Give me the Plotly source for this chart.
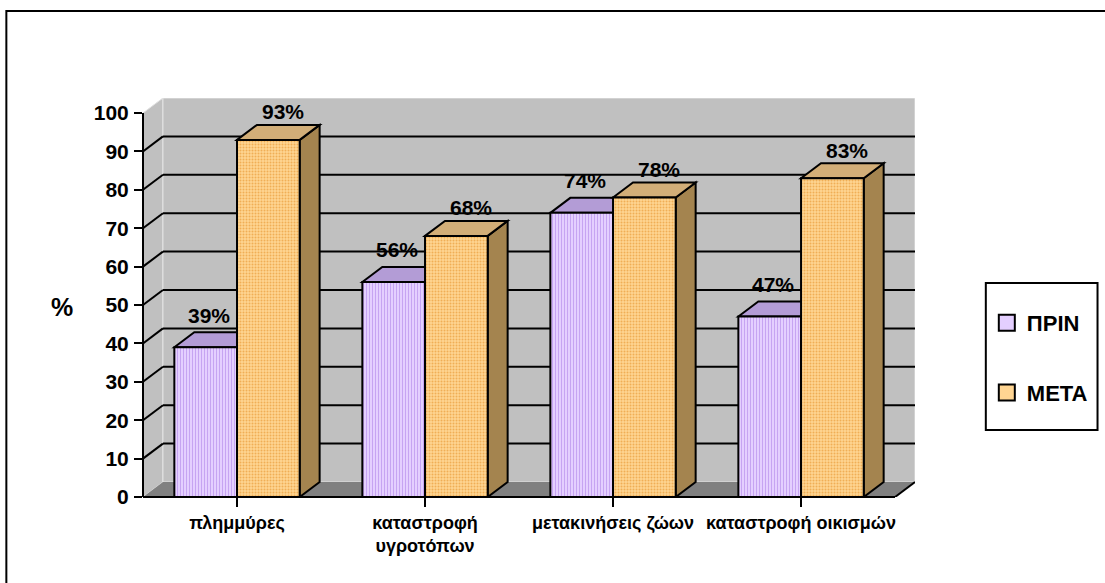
import plotly.graph_objects as go

# ---------------- data ----------------
categories = ["πλημμύρες", "καταστροφή<br>υγροτόπων", "μετακινήσεις ζώων", "καταστροφή οικισμών"]
series_names = ["ΠΡΙΝ", "ΜΕΤΑ"]
before = [39, 56, 74, 47]
after = [93, 68, 78, 83]
y_tick_values = list(range(0, 101, 10))
y_axis_label = "%"

# ---------------- geometry / style ----------------
FIG_W, FIG_H = 1105, 583
L, R, T, B = 143, 188, 98, 86
PW = FIG_W - L - R
PH = FIG_H - T - B
DEPTH_X_PX, DEPTH_Y_PX = 20, 15
N = len(categories)
X_UNIT = (PW - DEPTH_X_PX) / N
DX = DEPTH_X_PX / X_UNIT
Y_MAX = max(y_tick_values)
Y_UNIT = (PH - DEPTH_Y_PX) / Y_MAX
DY = DEPTH_Y_PX / Y_UNIT
BARGAP = 1 / 3
BAR_W = (1 - BARGAP) / 2

FONT = "Arial, 'Liberation Sans', sans-serif"
front_colors = ["#E4CFFF", "#FFD592"]
pattern_fg = ["#C6A4F2", "#F0AE55"]
pattern_shape = ["|", "."]
top_colors = ["#B39CD6", "#D2AE78"]
side_colors = ["#8E78B0", "#A4844F"]
WALL = "#C0C0C0"
FLOOR = "#808080"


def xp(px):
    return (px - L) / PW


def yp(py):
    return (FIG_H - B - py) / PH


fig = go.Figure()
series_values = [before, after]
x_idx = list(range(N))

for s, (name, vals) in enumerate(zip(series_names, series_values)):
    fig.add_trace(go.Bar(
        x=x_idx, y=vals, name=name, showlegend=False,
        marker=dict(color=front_colors[s], line=dict(color="black", width=2),
                    pattern=dict(shape=pattern_shape[s], fgcolor=pattern_fg[s],
                                 bgcolor=front_colors[s], size=3, solidity=0.35,
                                 fillmode="replace")),
        hoverinfo="skip",
    ))
    # legend proxies
    fig.add_trace(go.Scatter(
        x=[None], y=[None], mode="markers", name=name, legendgroup=name,
        marker=dict(symbol="square", size=16, color=front_colors[s],
                    line=dict(color="black", width=2)),
    ))

shapes = []
x_left = -0.5
x_right = N - 0.5
# side wall, back wall, floor
shapes.append(dict(type="path", layer="below", xref="x", yref="y",
                   path=f"M{x_left},0 L{x_left+DX},{DY} L{x_left+DX},{Y_MAX+DY} L{x_left},{Y_MAX} Z",
                   fillcolor=WALL, line=dict(color="#E0E0E0", width=1)))
shapes.append(dict(type="rect", layer="below", xref="x", yref="y",
                   x0=x_left+DX, x1=x_right+DX, y0=DY, y1=Y_MAX+DY,
                   fillcolor=WALL, line=dict(color="#E4E4E4", width=1)))
shapes.append(dict(type="path", layer="below", xref="x", yref="y",
                   path=f"M{x_left},0 L{x_left+DX},{DY} L{x_right+DX},{DY} L{x_right},0 Z",
                   fillcolor=FLOOR, line=dict(width=0)))
# gridlines on walls
for v in y_tick_values:
    if v in (0, Y_MAX):
        continue
    shapes.append(dict(type="line", layer="below", xref="x", yref="y",
                       x0=x_left, y0=v, x1=x_left+DX, y1=v+DY,
                       line=dict(color="black", width=2)))
    shapes.append(dict(type="line", layer="below", xref="x", yref="y",
                       x0=x_left+DX, y0=v+DY, x1=x_right+DX, y1=v+DY,
                       line=dict(color="black", width=2)))
# floor right edge
shapes.append(dict(type="line", layer="below", xref="x", yref="y",
                   x0=x_right, y0=0, x1=x_right+DX, y1=DY,
                   line=dict(color="black", width=2)))

# 3D faces of bars (computed from data)
for s, vals in enumerate(series_values):
    for i, v in enumerate(vals):
        xl = i - BAR_W + s * BAR_W
        xr = xl + BAR_W
        shapes.append(dict(type="path", layer="below", xref="x", yref="y",
                           path=f"M{xr},0 L{xr+DX},{DY} L{xr+DX},{v+DY} L{xr},{v} Z",
                           fillcolor=side_colors[s], line=dict(color="black", width=2)))
        shapes.append(dict(type="path", layer="below", xref="x", yref="y",
                           path=f"M{xl},{v} L{xl+DX},{v+DY} L{xr+DX},{v+DY} L{xr},{v} Z",
                           fillcolor=top_colors[s], line=dict(color="black", width=2)))

# axis lines (paper coords so they are not clipped)
shapes.append(dict(type="line", layer="above", xref="paper", yref="paper",
                   x0=0, y0=0, x1=(N * X_UNIT) / PW, y1=0,
                   line=dict(color="black", width=2)))
shapes.append(dict(type="line", layer="above", xref="paper", yref="paper",
                   x0=0, y0=0, x1=0, y1=(Y_MAX * Y_UNIT) / PH,
                   line=dict(color="black", width=2)))
# legend box
shapes.append(dict(type="rect", layer="above", xref="paper", yref="paper",
                   x0=xp(988), x1=xp(1100), y0=yp(430), y1=yp(283),
                   line=dict(color="black", width=2), fillcolor="rgba(0,0,0,0)"))
# outer chart border
shapes.append(dict(type="rect", layer="above", xref="paper", yref="paper",
                   x0=xp(6), x1=xp(1120), y0=yp(600), y1=yp(11),
                   line=dict(color="black", width=2), fillcolor="rgba(0,0,0,0)"))

annotations = []
label_dx_px = [3, 15]
label_dy_px = [17, 13]
for s, vals in enumerate(series_values):
    for i, v in enumerate(vals):
        xc = i - BAR_W / 2 + s * BAR_W + label_dx_px[s] / X_UNIT
        annotations.append(dict(x=xc, y=v + DY, xref="x", yref="y", text=f"<b>{v}%</b>",
                                showarrow=False, yanchor="middle", yshift=label_dy_px[s],
                                font=dict(family=FONT, size=21, color="black")))
annotations.append(dict(x=xp(62), y=yp(307), xref="paper", yref="paper",
                        text=f"<b>{y_axis_label}</b>", showarrow=False,
                        xanchor="center", yanchor="middle",
                        font=dict(family=FONT, size=25, color="black")))

fig.update_layout(
    width=FIG_W, height=FIG_H, autosize=False,
    margin=dict(l=L, r=R, t=T, b=B, pad=0),
    paper_bgcolor="white", plot_bgcolor="rgba(0,0,0,0)",
    barmode="group", bargap=BARGAP, bargroupgap=0,
    shapes=shapes, annotations=annotations,
    showlegend=True,
    legend=dict(x=xp(989), y=yp(302), xanchor="left", yanchor="top",
                bgcolor="rgba(0,0,0,0)", borderwidth=0,
                font=dict(family=FONT, size=22, color="black", weight="bold"),
                tracegroupgap=38, traceorder="grouped", itemsizing="trace"),
    xaxis=dict(range=[x_left, x_right + DX], tickmode="array", tickvals=x_idx,
               ticktext=[f"<b>{c}</b>" for c in categories], tickson="boundaries",
               ticks="outside", ticklen=9, tickwidth=2, tickcolor="black",
               showgrid=False, zeroline=False, showline=False,
               tickfont=dict(family=FONT, size=18, color="black")),
    yaxis=dict(range=[0, Y_MAX + DY], tickmode="array", tickvals=y_tick_values,
               ticktext=[f"<b>{v}</b>" for v in y_tick_values],
               ticks="outside", ticklen=8, tickwidth=2, tickcolor="black",
               ticklabelstandoff=1,
               showgrid=False, zeroline=False, showline=False,
               tickfont=dict(family=FONT, size=21, color="black")),
)

fig.write_html("out.html")
